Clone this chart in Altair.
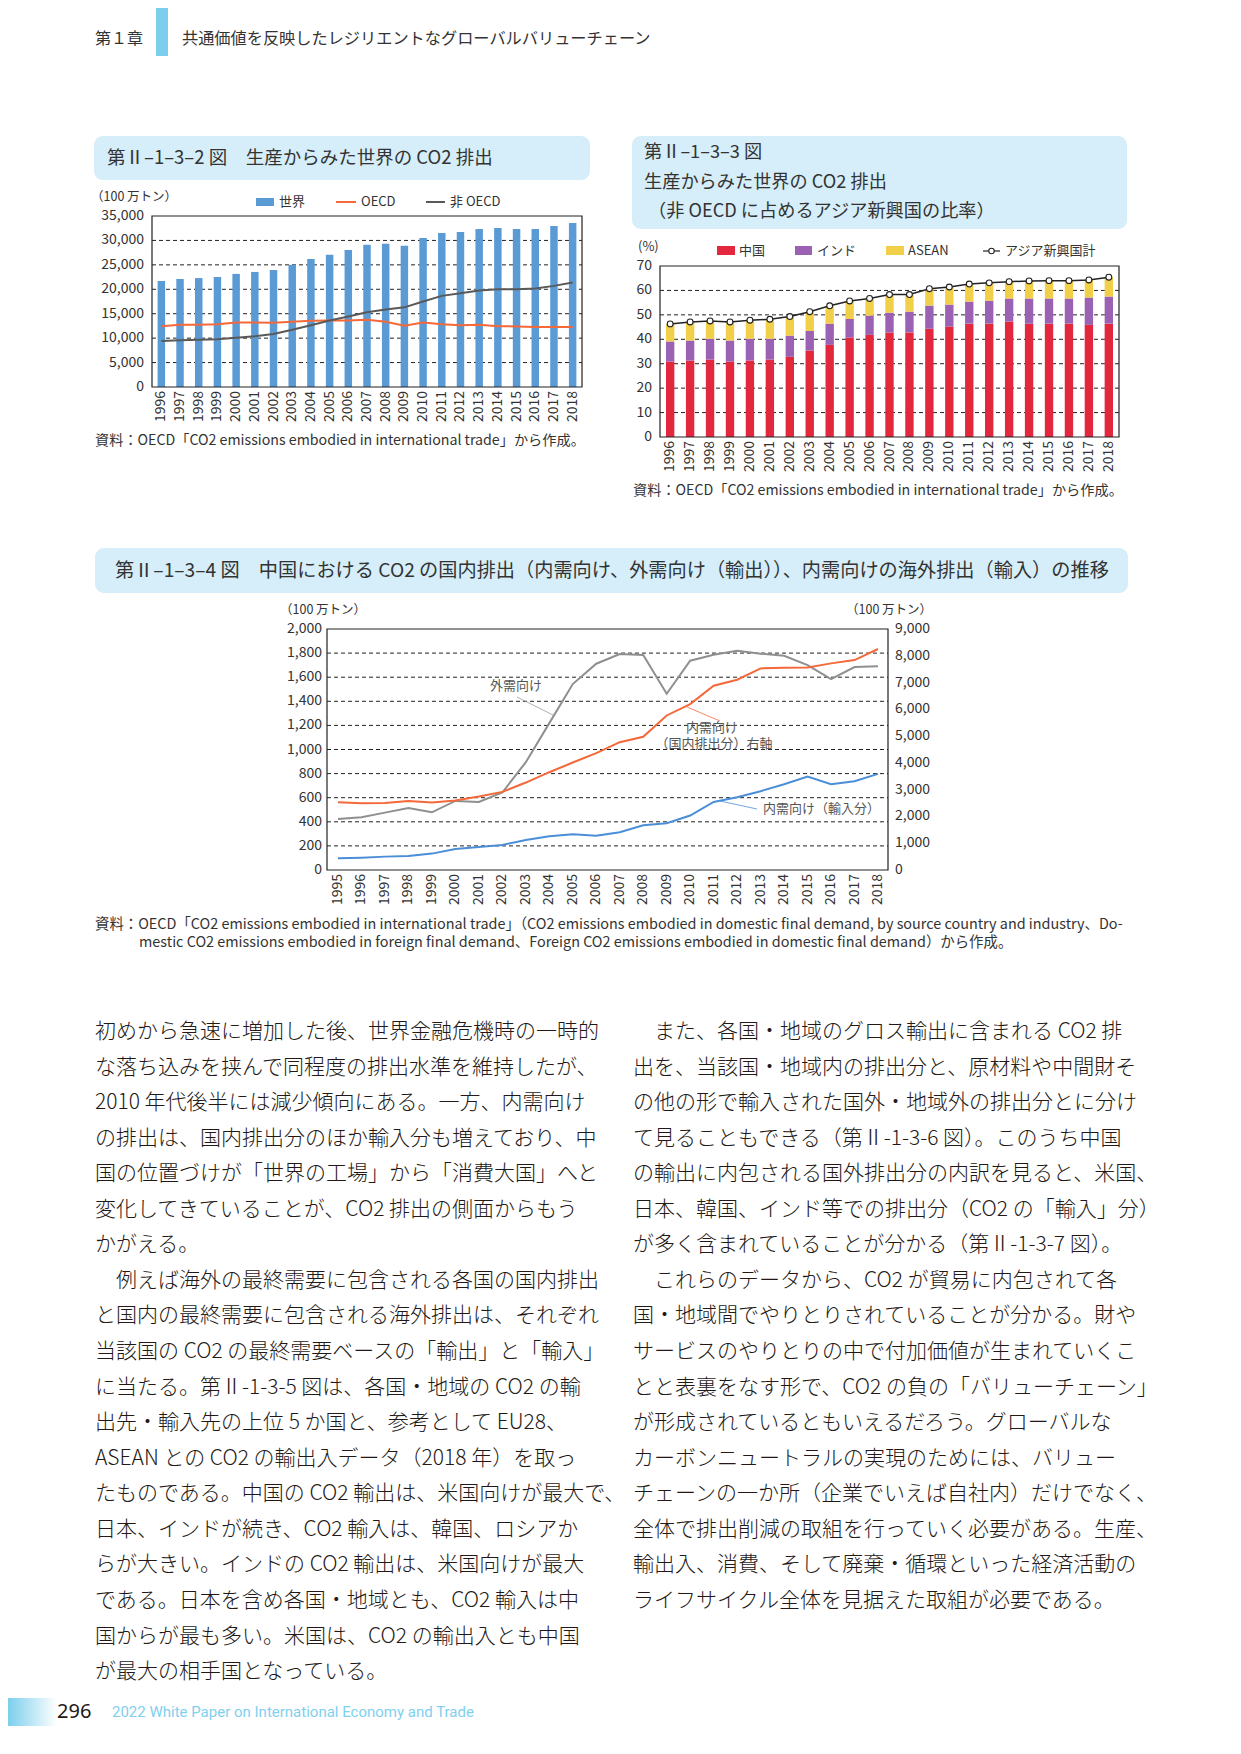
import altair as alt
import pandas as pd

# ---------------- data ----------------
years_a = ["1996", "1997", "1998", "1999", "2000", "2001", "2002", "2003", "2004", "2005", "2006", "2007",
           "2008", "2009", "2010", "2011", "2012", "2013", "2014", "2015", "2016", "2017", "2018"]
world = [21700, 22100, 22300, 22500, 23150, 23550, 23950, 25000, 26200, 27050, 28050, 29100,
         29300, 28900, 30500, 31500, 31750, 32350, 32550, 32350, 32350, 32950, 33550]
oecd = [12450, 12750, 12750, 12850, 13200, 13200, 13150, 13350, 13550, 13600, 13600, 13750,
        13350, 12550, 13200, 12850, 12650, 12750, 12450, 12400, 12300, 12300, 12300]
non_oecd = [9400, 9550, 9650, 9750, 10100, 10400, 10850, 11700, 12650, 13600, 14450, 15300,
            15850, 16300, 17500, 18650, 19200, 19750, 20000, 20000, 20150, 20700, 21400]

china = [30.9, 31.3, 31.7, 30.9, 31.3, 31.7, 32.8, 35.4, 37.7, 40.7, 41.8, 42.8,
         42.8, 44.3, 45.2, 46.4, 46.4, 47.3, 46.4, 46.4, 46.4, 45.9, 46.4]
india = [8.2, 8.2, 8.5, 8.6, 8.9, 8.5, 8.7, 8.0, 8.7, 7.6, 7.9, 8.1,
         8.5, 9.5, 9.0, 9.0, 9.4, 9.4, 10.3, 10.3, 10.3, 11.2, 11.1]
asean = [7.2, 7.6, 7.3, 7.6, 7.6, 8.0, 7.8, 7.9, 7.3, 7.4, 7.0, 7.4,
         7.0, 6.9, 7.2, 7.2, 7.3, 6.9, 7.2, 7.3, 7.3, 7.2, 7.9]
asia_total = [46.3, 47.1, 47.5, 47.1, 47.8, 48.2, 49.3, 51.3, 53.7, 55.7, 56.7, 58.3,
              58.3, 60.7, 61.4, 62.6, 63.1, 63.6, 63.9, 64.0, 64.0, 64.3, 65.4]
series2 = ["中国", "インド", "ASEAN"]

years_b = ["1995", "1996", "1997", "1998", "1999", "2000", "2001", "2002", "2003", "2004", "2005", "2006",
           "2007", "2008", "2009", "2010", "2011", "2012", "2013", "2014", "2015", "2016", "2017", "2018"]
export_dem = [424, 438, 476, 515, 479, 573, 565, 643, 895, 1219, 1543, 1712,
              1792, 1784, 1463, 1737, 1787, 1820, 1795, 1778, 1701, 1584, 1684, 1690]
domestic_dem = [2530, 2493, 2506, 2580, 2518, 2593, 2742, 2917, 3266, 3652, 4014, 4363,
                4774, 4974, 5771, 6195, 6881, 7105, 7529, 7554, 7566, 7716, 7841, 8252]
import_dem = [97, 102, 111, 116, 136, 175, 191, 208, 249, 280, 296, 285,
              313, 371, 388, 452, 565, 604, 654, 712, 776, 712, 737, 798]

ticks1 = [0, 5000, 10000, 15000, 20000, 25000, 30000, 35000]
ticks2 = [0, 10, 20, 30, 40, 50, 60, 70]
ticks3l = [0, 200, 400, 600, 800, 1000, 1200, 1400, 1600, 1800, 2000]
ticks3r = [0, 1000, 2000, 3000, 4000, 5000, 6000, 7000, 8000, 9000]

header_chapter = "第１章"
header_title = "共通価値を反映したレジリエントなグローバルバリューチェーン"
title1 = "第Ⅱ–1–3–2 図　生産からみた世界の CO2 排出"
title2 = ["第Ⅱ–1–3–3 図", "生産からみた世界の CO2 排出", "（非 OECD に占めるアジア新興国の比率）"]
title3 = "第Ⅱ–1–3–4 図　中国における CO2 の国内排出（内需向け、外需向け（輸出））、内需向けの海外排出（輸入）の推移"
unit_label = "（100 万トン）"
source12 = "資料：OECD「CO2 emissions embodied in international trade」から作成。"
source3 = ["資料：OECD「CO2 emissions embodied in international trade」（CO2 emissions embodied in domestic final demand, by source country and industry、Do-",
           "mestic CO2 emissions embodied in foreign final demand、Foreign CO2 emissions embodied in domestic final demand）から作成。"]
footer_page = "296"
footer_title = "2022 White Paper on International Economy and Trade"

body_left = [
    "初めから急速に増加した後、世界金融危機時の一時的",
    "な落ち込みを挟んで同程度の排出水準を維持したが、",
    "2010 年代後半には減少傾向にある。一方、内需向け",
    "の排出は、国内排出分のほか輸入分も増えており、中",
    "国の位置づけが「世界の工場」から「消費大国」へと",
    "変化してきていることが、CO2 排出の側面からもう",
    "かがえる。",
    "　例えば海外の最終需要に包含される各国の国内排出",
    "と国内の最終需要に包含される海外排出は、それぞれ",
    "当該国の CO2 の最終需要ベースの「輸出」と「輸入」",
    "に当たる。第Ⅱ-1-3-5 図は、各国・地域の CO2 の輸",
    "出先・輸入先の上位 5 か国と、参考として EU28、",
    "ASEAN との CO2 の輸出入データ（2018 年）を取っ",
    "たものである。中国の CO2 輸出は、米国向けが最大で、",
    "日本、インドが続き、CO2 輸入は、韓国、ロシアか",
    "らが大きい。インドの CO2 輸出は、米国向けが最大",
    "である。日本を含め各国・地域とも、CO2 輸入は中",
    "国からが最も多い。米国は、CO2 の輸出入とも中国",
    "が最大の相手国となっている。",
]
body_right = [
    "　また、各国・地域のグロス輸出に含まれる CO2 排",
    "出を、当該国・地域内の排出分と、原材料や中間財そ",
    "の他の形で輸入された国外・地域外の排出分とに分け",
    "て見ることもできる（第Ⅱ-1-3-6 図）。このうち中国",
    "の輸出に内包される国外排出分の内訳を見ると、米国、",
    "日本、韓国、インド等での排出分（CO2 の「輸入」分）",
    "が多く含まれていることが分かる（第Ⅱ-1-3-7 図）。",
    "　これらのデータから、CO2 が貿易に内包されて各",
    "国・地域間でやりとりされていることが分かる。財や",
    "サービスのやりとりの中で付加価値が生まれていくこ",
    "とと表裏をなす形で、CO2 の負の「バリューチェーン」",
    "が形成されているともいえるだろう。グローバルな",
    "カーボンニュートラルの実現のためには、バリュー",
    "チェーンの一か所（企業でいえば自社内）だけでなく、",
    "全体で排出削減の取組を行っていく必要がある。生産、",
    "輸出入、消費、そして廃棄・循環といった経済活動の",
    "ライフサイクル全体を見据えた取組が必要である。",
]

# ---------------- style / layout ----------------
FONT = "Noto Sans CJK JP"
TXT = "#333333"
BODY = "#231815"
BOX = "#d5eef9"
ACCENT = "#7ccfec"
C_WORLD = "#5b9bd5"
C_OECD = "#f4683a"
C_NON = "#595959"
C_CN = "#e3283e"
C_IN = "#9b62b3"
C_AS = "#f1cf48"
C_EXP = "#8f8f8f"
C_DOM = "#f4683a"
C_IMP = "#4b8ed8"
GRID = "#222222"

W, H = 1225, 1725
DUMMY = pd.DataFrame({"d": [0]})

# plot rectangles (left, right, top, bottom) in page pixels
P1 = (144, 574, 208, 379)
P2 = (652, 1111, 258, 429)
P3 = (319, 880, 621, 862)

BODY_SIZE = 21
BODY_Y0 = 1024
BODY_LH = 35.56


def label(s, x, y, size=13, align="left", baseline="middle", color=TXT, font=FONT, **kw):
    return alt.Chart(DUMMY).mark_text(text=s, align=align, baseline=baseline, fontSize=size,
                                      font=font, color=color, **kw).encode(x=alt.value(x), y=alt.value(y))


def box(x1, x2, y1, y2, **kw):
    return alt.Chart(DUMMY).mark_rect(**kw).encode(x=alt.value(x1), x2=alt.value(x2),
                                                   y=alt.value(y1), y2=alt.value(y2))


def seg(x1, y1, x2, y2, color, width=1.0):
    return alt.Chart(DUMMY).mark_rule(color=color, strokeWidth=width).encode(
        x=alt.value(x1), x2=alt.value(x2), y=alt.value(y1), y2=alt.value(y2))


def frame(p):
    return box(p[0], p[1], p[2], p[3], fillOpacity=0, stroke="#222222", strokeWidth=1.2)


def grid(values, yscale, p):
    return alt.Chart(pd.DataFrame({"v": values})).mark_rule(
        color=GRID, strokeWidth=1, strokeDash=[4, 3]).encode(
        y=alt.Y("v:Q", scale=yscale, axis=None), x=alt.value(p[0]), x2=alt.value(p[1]))


def ylabels(values, yscale, x, align, thousands=True):
    df = pd.DataFrame({"v": values, "t": [f"{v:,}" if thousands else str(v) for v in values]})
    return alt.Chart(df).mark_text(align=align, baseline="middle", fontSize=14, font=FONT, color=TXT).encode(
        y=alt.Y("v:Q", scale=yscale, axis=None), x=alt.value(x), text="t:N")


def xlabels(years, xscale, p):
    df = pd.DataFrame({"year": years})
    return alt.Chart(df).mark_text(angle=270, align="right", baseline="middle", fontSize=14, font=FONT,
                                   color=TXT).encode(
        x=alt.X("year:N", scale=xscale, axis=None), y=alt.value(p[3] + 4), text="year:N")


# ---------------- chart 1 ----------------
df1 = pd.DataFrame({"year": years_a, "world": world, "oecd": oecd, "non_oecd": non_oecd})
x1s = alt.Scale(type="band", domain=years_a, range=[P1[0], P1[1]], paddingInner=0.6, paddingOuter=0.3)
y1s = alt.Scale(domain=[0, 35000], range=[P1[3], P1[2]], nice=False)
chart1 = alt.layer(
    grid(ticks1[1:-1], y1s, P1),
    alt.Chart(df1).mark_bar(color=C_WORLD).encode(
        x=alt.X("year:N", scale=x1s, axis=None),
        y=alt.Y("world:Q", scale=y1s, axis=None)),
    alt.Chart(df1).mark_line(color=C_OECD, strokeWidth=2).encode(
        x=alt.X("year:N", scale=x1s, axis=None), y=alt.Y("oecd:Q", scale=y1s, axis=None)),
    alt.Chart(df1).mark_line(color=C_NON, strokeWidth=2).encode(
        x=alt.X("year:N", scale=x1s, axis=None), y=alt.Y("non_oecd:Q", scale=y1s, axis=None)),
    ylabels(ticks1, y1s, P1[0] - 8, "right"),
    xlabels(years_a, x1s, P1),
)

# ---------------- chart 2 ----------------
rows = []
for i, yr in enumerate(years_a):
    for k, vals in enumerate([china, india, asean]):
        rows.append({"year": yr, "series": series2[k], "value": vals[i], "k": k})
df2 = pd.DataFrame(rows)
df2t = pd.DataFrame({"year": years_a, "total": asia_total})
x2s = alt.Scale(type="band", domain=years_a, range=[P2[0], P2[1]], paddingInner=0.58, paddingOuter=0.3)
y2s = alt.Scale(domain=[0, 70], range=[P2[3], P2[2]], nice=False)
chart2 = alt.layer(
    grid(ticks2[1:-1], y2s, P2),
    alt.Chart(df2).mark_bar().encode(
        x=alt.X("year:N", scale=x2s, axis=None),
        y=alt.Y("value:Q", stack="zero", scale=y2s, axis=None),
        color=alt.Color("series:N", scale=alt.Scale(domain=series2, range=[C_CN, C_IN, C_AS]), legend=None),
        order=alt.Order("k:Q", sort="ascending")),
    alt.Chart(df2t).mark_line(color="#222222", strokeWidth=1.5).encode(
        x=alt.X("year:N", scale=x2s, axis=None), y=alt.Y("total:Q", scale=y2s, axis=None)),
    alt.Chart(df2t).mark_point(shape="circle", filled=True, fill="white", stroke="#222222",
                               strokeWidth=1.1, size=34, opacity=1).encode(
        x=alt.X("year:N", scale=x2s, axis=None), y=alt.Y("total:Q", scale=y2s, axis=None)),
    ylabels(ticks2, y2s, P2[0] - 8, "right", thousands=False),
    xlabels(years_a, x2s, P2),
)

# ---------------- chart 3 ----------------
df3 = pd.DataFrame({"year": years_b, "exp": export_dem, "dom": domestic_dem, "imp": import_dem})
x3s = alt.Scale(type="point", domain=years_b, range=[P3[0] + 11, P3[1] - 10], padding=0)
y3l = alt.Scale(domain=[0, 2000], range=[P3[3], P3[2]], nice=False)
y3r = alt.Scale(domain=[0, 9000], range=[P3[3], P3[2]], nice=False)
left3 = alt.layer(
    grid(ticks3l[1:-1], y3l, P3),
    alt.Chart(df3).mark_line(color=C_EXP, strokeWidth=2).encode(
        x=alt.X("year:N", scale=x3s, axis=None), y=alt.Y("exp:Q", scale=y3l, axis=None)),
    alt.Chart(df3).mark_line(color=C_IMP, strokeWidth=2).encode(
        x=alt.X("year:N", scale=x3s, axis=None), y=alt.Y("imp:Q", scale=y3l, axis=None)),
    ylabels(ticks3l, y3l, P3[0] - 5, "right"),
    xlabels(years_b, x3s, P3),
)
right3 = alt.layer(
    alt.Chart(df3).mark_line(color=C_DOM, strokeWidth=2).encode(
        x=alt.X("year:N", scale=x3s, axis=None), y=alt.Y("dom:Q", scale=y3r, axis=None)),
    ylabels(ticks3r, y3r, P3[1] + 7, "left"),
)
chart3 = alt.layer(left3, right3).resolve_scale(y="independent")

# ---------------- page decorations ----------------
back = alt.layer(
    box(148, 160, 0, 48, color=ACCENT),
    box(86, 582, 128, 172, color=BOX, cornerRadius=9),
    box(624, 1119, 128, 221, color=BOX, cornerRadius=9),
    box(87, 1120, 540, 585, color=BOX, cornerRadius=9),
)


def body_column(lines, x0):
    out = []
    for i, s in enumerate(lines):
        indent = s.startswith("　")
        out.append(label(s.lstrip("　"), x0 + (BODY_SIZE if indent else 0), BODY_Y0 + i * BODY_LH,
                         size=BODY_SIZE, color=BODY, fontWeight=300))
    return out


front = alt.layer(
    frame(P1), frame(P2), frame(P3),
    # header
    label(header_chapter, 87, 31, size=16),
    label(header_title, 174, 31, size=16.2),
    # chart 1 texts
    label(title1, 99, 150, size=18.5),
    label(unit_label, 83, 189, size=12.5),
    box(248, 266, 190, 198, color=C_WORLD),
    label("世界", 271, 194),
    seg(328, 194, 348, 194, C_OECD, 2),
    label("OECD", 353, 194),
    seg(418, 194, 437, 194, C_NON, 2),
    label("非 OECD", 442, 194),
    label(source12, 87, 433, size=14.2),
    # chart 2 texts
    label(title2[0], 636, 145, size=18.2),
    label(title2[1], 636, 175, size=18.2),
    label(title2[2], 640, 204, size=18.2),
    label("(%)", 630, 239, size=13),
    box(709, 727, 238, 247, color=C_CN),
    label("中国", 731, 243),
    box(787, 804, 238, 247, color=C_IN),
    label("インド", 809, 243),
    box(878, 896, 238, 247, color=C_AS),
    label("ASEAN", 900, 243),
    seg(975, 243, 992, 243, "#222222", 1.2),
    alt.Chart(DUMMY).mark_point(shape="circle", filled=True, fill="white", stroke="#222222",
                                strokeWidth=1.1, size=30, opacity=1).encode(x=alt.value(983.5), y=alt.value(243)),
    label("アジア新興国計", 997, 243),
    label(source12, 625, 483, size=14.2),
    # chart 3 texts
    label(title3, 107, 563, size=19.2),
    label(unit_label, 272, 602, size=12.5),
    label(unit_label, 838, 602, size=12.5),
    label("外需向け", 508, 678, align="center", color="#555555"),
    seg(509, 689, 545, 707, "#999999", 0.8),
    label("内需向け", 704, 720, align="center", color="#555555"),
    label("（国内排出分）右軸", 706, 736, align="center", color="#555555"),
    seg(679, 699, 712, 713, C_DOM, 0.8),
    label("内需向け（輸入分）", 755, 801, color="#555555"),
    seg(712, 793, 749, 801, C_IMP, 0.8),
    label(source3[0], 87, 917, size=14.4),
    label(source3[1], 131, 935, size=14.4),
    # body text
    *body_column(body_left, 87),
    *body_column(body_right, 625),
    # footer
    alt.Chart(DUMMY).mark_rect(fill=alt.LinearGradient(
        gradient="linear", x1=0, x2=1, y1=0, y2=0,
        stops=[alt.GradientStop(color=ACCENT, offset=0), alt.GradientStop(color="#ffffff", offset=1)])
    ).encode(x=alt.value(0), x2=alt.value(49), y=alt.value(1690), y2=alt.value(1718)),
    label(footer_page, 49, 1704, size=20, color="#231815", font="Noto Sans"),
    label(footer_title, 104, 1704, size=15, color="#7fd0ee", font="Roboto"),
)

page = alt.layer(back, chart1, chart2, chart3, front).resolve_scale(
    x="independent", y="independent"
).properties(width=W, height=H, padding=0).configure(font=FONT).configure_view(stroke=None)

page.save("out.html", embed_options={"renderer": "svg", "actions": False})
